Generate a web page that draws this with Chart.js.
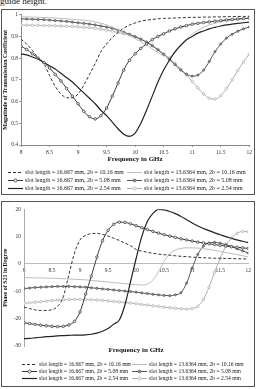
<!DOCTYPE html>
<html>
<head>
<meta charset="utf-8">
<script src="https://cdn.jsdelivr.net/npm/chart.js@4"></script>
<style>
body { margin:0; width:257px; height:389px; overflow:hidden; background:#fff; position:relative; font-family:"Liberation Serif", serif; }
.box { position:absolute; border:1px solid #555; box-sizing:border-box; }
canvas.chart { position:absolute; }
.lg { position:absolute; color:#222; white-space:nowrap; }
.lg canvas { vertical-align:middle; margin-right:2px; }
.cap { position:absolute; left:0; top:-3px; font-size:9px; line-height:9px; color:#111; }
</style>
</head>
<body>
<div class="cap">guide height.</div>
<div class="box" style="left:1px;top:9px;width:254px;height:186px"></div>
<div class="box" style="left:1px;top:201px;width:254px;height:186px"></div>
<canvas id="magChart" class="chart" width="252" height="156" style="left:2px;top:10px"></canvas>
<canvas id="phaseChart" class="chart" width="252" height="151" style="left:2px;top:203px"></canvas>
<script>
// frequency points (GHz)
var freq = [8.0,8.1,8.2,8.3,8.4,8.5,8.6,8.7,8.8,8.9,9.0,9.1,9.2,9.3,9.4,9.5,9.6,9.7,9.8,9.9,
            10.0,10.1,10.2,10.3,10.4,10.5,10.6,10.7,10.8,10.9,11.0,11.1,11.2,11.3,11.4,11.5,11.6,11.7,11.8,11.9,12.0];

var seriesNames = [
    'slot length = 16.667 mm, 2b = 10.16 mm',
    'slot length = 16.667 mm, 2b = 5.08 mm',
    'slot length = 16.667 mm, 2b = 2.54 mm',
    'slot length = 13.6364 mm, 2b = 10.16 mm',
    'slot length = 13.6364 mm, 2b = 5.08 mm',
    'slot length = 13.6364 mm, 2b = 2.54 mm'
];

// magnitude of transmission coefficient
var magA = [0.887,0.865,0.835,0.80,0.775,0.72,0.67,0.635,0.618,0.617,0.635,0.675,0.725,0.775,0.83,0.865,0.895,0.918,0.938,0.952,
            0.962,0.97,0.975,0.978,0.981,0.983,0.984,0.985,0.986,0.987,0.988,0.988,0.989,0.989,0.99,0.99,0.991,0.991,0.992,0.992,0.993];
var magB = [0.855,0.84,0.82,0.80,0.78,0.755,0.725,0.695,0.66,0.625,0.59,0.555,0.53,0.52,0.535,0.57,0.625,0.685,0.745,0.79,
            0.82,0.845,0.865,0.885,0.90,0.912,0.925,0.935,0.943,0.95,0.956,0.96,0.964,0.967,0.97,0.973,0.976,0.978,0.98,0.982,0.984];
var magC = [0.82,0.815,0.805,0.795,0.78,0.765,0.75,0.73,0.71,0.69,0.665,0.64,0.615,0.59,0.56,0.535,0.505,0.475,0.45,0.44,
            0.455,0.5,0.56,0.625,0.69,0.745,0.79,0.83,0.86,0.885,0.90,0.915,0.925,0.935,0.942,0.948,0.953,0.957,0.96,0.963,0.966];
var magD = [0.99,0.99,0.989,0.988,0.987,0.986,0.985,0.983,0.981,0.979,0.977,0.975,0.972,0.967,0.961,0.953,0.943,0.931,0.918,0.905,
            0.89,0.875,0.86,0.843,0.826,0.81,0.805,0.825,0.855,0.885,0.91,0.928,0.942,0.953,0.961,0.967,0.972,0.976,0.979,0.982,0.984];
var magE = [0.981,0.98,0.979,0.978,0.977,0.975,0.973,0.971,0.969,0.966,0.963,0.96,0.957,0.953,0.948,0.943,0.937,0.929,0.92,0.91,
            0.899,0.887,0.873,0.857,0.838,0.817,0.794,0.77,0.745,0.726,0.717,0.722,0.745,0.785,0.83,0.865,0.892,0.91,0.924,0.935,0.943];
var magF = [0.952,0.952,0.951,0.951,0.95,0.95,0.949,0.948,0.947,0.946,0.944,0.942,0.94,0.937,0.933,0.929,0.924,0.918,0.912,0.906,
            0.898,0.888,0.875,0.859,0.84,0.82,0.798,0.775,0.75,0.722,0.693,0.663,0.635,0.615,0.612,0.627,0.66,0.70,0.743,0.783,0.818];

// phase of S21 in degree
var phA = [-15.8,-16.3,-16.8,-17.0,-17.0,-16.7,-15.5,-12,-4,4,8.8,10.5,11.1,11.2,10.8,10.2,9.4,8.6,7.6,6.7,
           5.3,4.7,4.3,3.9,3.6,3.4,3.2,3.0,2.8,2.7,2.5,2.4,2.3,2.2,2.1,2.1,2.0,2.0,1.9,1.9,1.8];
var phB = [-21.5,-21.8,-22.1,-22.4,-22.6,-22.8,-22.9,-22.8,-22.3,-21,-17.5,-11,-4.5,2.5,8.5,12.3,14.5,15.3,15.2,14.7,
           14.0,13.3,12.6,11.9,11.3,10.7,10.2,9.7,9.2,8.8,8.4,8.0,7.7,7.4,7.1,6.8,6.6,6.3,6.1,5.9,5.7];
var phC = [-27.3,-27.2,-27.0,-26.8,-26.6,-26.5,-26.3,-26.2,-26.1,-26.0,-26.0,-25.9,-25.7,-25.3,-24.6,-23.6,-22.0,-20.5,-15,-6.5,
           2,10,15.5,18.5,20.0,19.8,19.2,18.4,17.4,16.2,15.0,13.9,13.0,12.2,11.4,10.7,10.0,9.4,8.8,8.3,7.8];
var phD = [-5.0,-5.0,-5.1,-5.1,-5.2,-5.2,-5.3,-5.4,-5.5,-5.6,-5.7,-5.8,-6.0,-6.2,-6.4,-6.6,-6.8,-7.0,-7.2,-7.4,
           -7.6,-7.7,-7.3,-5.8,-2.8,1.0,3.8,5.1,5.7,5.9,5.9,5.8,5.6,5.3,5.0,4.6,4.2,3.8,3.4,3.0,2.6];
var phE = [-9.0,-8.8,-8.6,-8.5,-8.4,-8.3,-8.2,-8.2,-8.2,-8.3,-8.4,-8.5,-8.7,-8.9,-9.1,-9.3,-9.5,-9.7,-9.9,-10.1,
           -10.3,-10.6,-10.8,-11.1,-11.3,-11.5,-11.6,-11.3,-10.5,-7,-1.5,3.5,6.5,7.7,7.9,7.6,7.1,6.4,5.6,4.8,4.0];
var phF = [-14.4,-14.2,-14.0,-13.8,-13.6,-13.4,-13.2,-13.1,-13.0,-13.0,-13.0,-13.0,-13.1,-13.2,-13.3,-13.5,-13.7,-13.9,-14.1,-14.3,
           -14.5,-14.8,-15.0,-15.3,-15.5,-15.8,-16.0,-16.2,-16.4,-16.5,-16.3,-15.5,-13,-8.5,-3,2,6.5,9.5,11.2,11.9,11.8];

var styles = [
    {color:'#333', dash:[3,2], width:1, radius:0, fill:'#333'},
    {color:'#3a3a3a', dash:[], width:1, radius:1.3, fill:'#e0e0e0'},
    {color:'#222', dash:[], width:1.2, radius:0, fill:'#222'},
    {color:'#bdbdbd', dash:[], width:1, radius:0, fill:'#bdbdbd'},
    {color:'#555', dash:[], width:1, radius:1.1, fill:'#999'},
    {color:'#b0b0b0', dash:[], width:1, radius:1.3, fill:'#f2f2f2'}
];

var serif = 'Liberation Serif';
// "8", "8.5", "1", "0.9" like the original, no trailing zero
var plainNum = function(v){ return String(Math.round(v * 10) / 10); };

function makeDatasets(list){
    return list.map(function(vals, i){
        var s = styles[i];
        return {
            label: seriesNames[i],
            data: freq.map(function(f, k){ return {x: f, y: vals[k]}; }),
            borderColor: s.color,
            borderWidth: s.width,
            borderDash: s.dash,
            pointRadius: s.radius,
            pointBorderWidth: 0.7,
            pointBorderColor: s.color,
            pointBackgroundColor: s.fill,
            cubicInterpolationMode: 'monotone',
            fill: false
        };
    });
}

// y axis width / x axis height fixed so the plot sits where the original does
new Chart(document.getElementById('magChart'), {
    type: 'line',
    data: { datasets: makeDatasets([magA, magB, magC, magD, magE, magF]) },
    options: {
        responsive: false,
        animation: false,
        layout: { padding: {top: 2, right: 2, left: 0, bottom: 0} },
        plugins: { legend: {display: false}, tooltip: {enabled: false} },
        scales: {
            x: {
                type: 'linear', min: 8, max: 12,
                ticks: { stepSize: 0.5, color: '#333', padding: 2, font: {family: serif, size: 5.5}, callback: plainNum },
                grid: { drawOnChartArea: false, tickLength: 2, color: '#999' },
                border: { color: '#888' },
                title: { display: true, text: 'Frequency in GHz', color: '#111',
                         font: {family: serif, size: 7, weight: 'bold'}, padding: {top: 0, bottom: 3} },
                afterFit: function(s){ s.height = 21; }
            },
            y: {
                min: 0.4, max: 1,
                ticks: { stepSize: 0.1, color: '#333', padding: 1, font: {family: serif, size: 5.5}, callback: plainNum },
                grid: { drawOnChartArea: false, tickLength: 2, color: '#999' },
                border: { color: '#888' },
                title: { display: true, text: 'Magnitude of Transmission Coefficient', color: '#111',
                         font: {family: serif, size: 6, weight: 'bold'}, padding: 0 },
                afterFit: function(s){ s.width = 19; }
            }
        }
    }
});

new Chart(document.getElementById('phaseChart'), {
    type: 'line',
    data: { datasets: makeDatasets([phA, phB, phC, phD, phE, phF]) },
    options: {
        responsive: false,
        animation: false,
        layout: { padding: {top: 4, right: 4, left: 0, bottom: 0} },
        plugins: { legend: {display: false}, tooltip: {enabled: false} },
        scales: {
            x: {
                type: 'linear', min: 8, max: 12, position: 'bottom',
                ticks: { display: false },
                grid: { display: false },
                border: { display: false },
                title: { display: true, text: 'Frequency in GHz', color: '#111',
                         font: {family: serif, size: 7, weight: 'bold'}, padding: 0 },
                afterFit: function(s){ s.height = 8; }
            },
            x0: {
                type: 'linear', axis: 'x', min: 8, max: 12, position: {y: 0},
                ticks: { stepSize: 0.5, color: '#333', padding: 3, font: {family: serif, size: 5.5}, callback: plainNum },
                grid: { drawOnChartArea: false, drawTicks: false },
                border: { color: '#bbb' }
            },
            y: {
                min: -30, max: 20,
                ticks: { stepSize: 10, color: '#333', padding: 3, font: {family: serif, size: 5.5} },
                grid: { drawOnChartArea: false, drawTicks: false },
                border: { color: '#aaa' },
                title: { display: true, text: 'Phase of S21 in Degree', color: '#111',
                         font: {family: serif, size: 6, weight: 'bold'}, padding: 0 },
                afterFit: function(s){ s.width = 22; }
            }
        }
    }
});

// legends as html, two columns of three rows
function sample(i){
    var c = document.createElement('canvas');
    c.width = 15; c.height = 5;
    var ctx = c.getContext('2d'), s = styles[i];
    ctx.strokeStyle = s.color; ctx.lineWidth = s.width;
    ctx.setLineDash(s.dash);
    ctx.beginPath(); ctx.moveTo(0, 2.5); ctx.lineTo(15, 2.5); ctx.stroke();
    if(s.radius){
        ctx.setLineDash([]);
        ctx.beginPath(); ctx.arc(7.5, 2.5, s.radius + 0.3, 0, Math.PI * 2);
        ctx.fillStyle = s.fill; ctx.fill(); ctx.lineWidth = 0.7; ctx.stroke();
    }
    return c;
}
function legend(rowTops, leftX, rightX, size){
    for(var i = 0; i < 6; i++){
        var d = document.createElement('div');
        d.className = 'lg';
        d.style.fontSize = size + 'px';
        d.style.lineHeight = '6px';
        d.style.left = (i < 3 ? leftX : rightX) + 'px';
        d.style.top = rowTops[i % 3] + 'px';
        d.appendChild(sample(i));
        var t = document.createElement('span');
        t.textContent = seriesNames[i];
        d.appendChild(t);
        document.body.appendChild(d);
    }
}
legend([169, 177, 185], 8, 127, 6);
legend([361, 368, 375], 22, 132, 5.6);
</script>
</body>
</html>
